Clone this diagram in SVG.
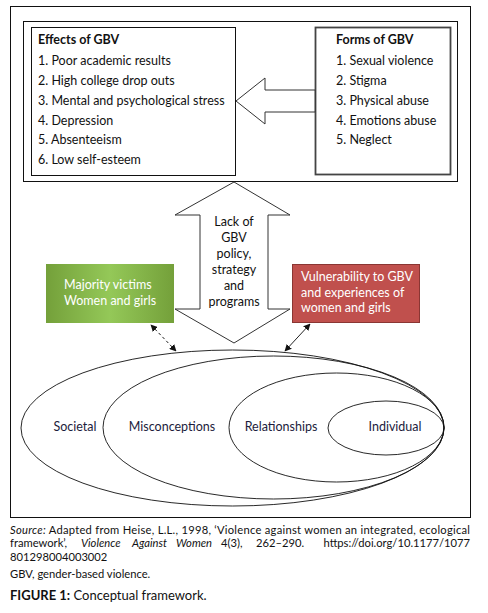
<svg xmlns="http://www.w3.org/2000/svg" width="488" height="613" viewBox="0 0 488 613">
<defs>
<linearGradient id="gg" x1="0" y1="0" x2="1" y2="0">
<stop offset="0" stop-color="#74a03a"/>
<stop offset="0.5" stop-color="#94c858"/>
<stop offset="1" stop-color="#74a03a"/>
</linearGradient>
<marker id="ah" viewBox="0 0 10 10" refX="9" refY="5" markerWidth="7" markerHeight="7" orient="auto-start-reverse" markerUnits="userSpaceOnUse">
<path d="M0,0 L10,5 L0,10 z" fill="#111"/>
</marker>
<style>
.t{font-family:Lato,"Open Sans","Liberation Sans",sans-serif;font-size:12.5px;fill:#111}
.b{font-weight:bold}
.w{fill:#fff}
.c{font-family:Lato,"Open Sans","Liberation Sans",sans-serif;font-size:11.2px;fill:#111}
.i{font-style:italic}
.box{fill:#fff;stroke:#111;stroke-width:1}
.ell{fill:none;stroke:#111;stroke-width:0.9}
.arr{fill:#fff;stroke:#333;stroke-width:1}
.lbl{font-family:Lato,"Open Sans","Liberation Sans",sans-serif;font-size:12.5px;fill:#1c1c3c;text-anchor:middle}
</style>
</defs>
<rect x="10.5" y="6.5" width="460" height="511" fill="#fff" stroke="#111" stroke-width="1"/>
<g id="top-frame"><rect x="23.5" y="21.5" width="434" height="160" class="box"/></g>
<g id="effects">
<rect x="31.5" y="27.5" width="204" height="148" class="box"/>
<text class="t b" x="38" y="44">Effects of GBV</text>
<text class="t" x="38" y="65">1. Poor academic results</text>
<text class="t" x="38" y="85">2. High college drop outs</text>
<text class="t" x="38" y="105">3. Mental and psychological stress</text>
<text class="t" x="38" y="125">4. Depression</text>
<text class="t" x="38" y="144">5. Absenteeism</text>
<text class="t" x="38" y="164">6. Low self-esteem</text>
</g>
<g id="forms">
<rect x="315.5" y="27.5" width="135" height="147" fill="#fff" stroke="#444" stroke-width="1.8"/>
<text class="t b" x="336" y="44">Forms of GBV</text>
<text class="t" x="336" y="65">1. Sexual violence</text>
<text class="t" x="336" y="85">2. Stigma</text>
<text class="t" x="336" y="105">3. Physical abuse</text>
<text class="t" x="336" y="125">4. Emotions abuse</text>
<text class="t" x="336" y="144">5. Neglect</text>
</g>
<g id="connectors">
<polygon class="arr" points="315,90 265,90 265,78 236,101 265,124 265,112 315,112"/>
<path d="M151,325 L176,351" fill="none" stroke="#222" stroke-width="1" stroke-dasharray="3,2.5" marker-start="url(#ah)" marker-end="url(#ah)"/>
<path d="M310,324 L285,351" fill="none" stroke="#222" stroke-width="1" marker-start="url(#ah)" marker-end="url(#ah)"/>
</g>
<g id="policy">
<polygon class="arr" points="234,182 290,215 268,215 268,309 290,309 234,343 175,309 200,309 200,215 175,215"/>
<text class="t" text-anchor="middle" x="234" y="226">Lack of</text>
<text class="t" text-anchor="middle" x="234" y="242">GBV</text>
<text class="t" text-anchor="middle" x="234" y="258">policy,</text>
<text class="t" text-anchor="middle" x="234" y="274">strategy</text>
<text class="t" text-anchor="middle" x="234" y="290">and</text>
<text class="t" text-anchor="middle" x="234" y="306">programs</text>
</g>
<g id="victims">
<rect x="46" y="264" width="128" height="59" fill="url(#gg)"/>
<text class="t w" x="64" y="289">Majority victims</text>
<text class="t w" x="64" y="305">Women and girls</text>
</g>
<g id="vulnerability">
<rect x="292.5" y="264.5" width="127" height="58" fill="#c0504d" stroke="#8a3633" stroke-width="1"/>
<text class="t w" x="301" y="281">Vulnerability to GBV</text>
<text class="t w" x="301" y="297">and experiences of</text>
<text class="t w" x="301" y="312">women and girls</text>
</g>
<g id="societal"><ellipse class="ell" cx="232.5" cy="428" rx="211.5" ry="78"/><text class="lbl" x="75" y="431">Societal</text></g>
<g id="misconceptions"><ellipse class="ell" cx="273.5" cy="427.5" rx="170.5" ry="71.5"/><text class="lbl" x="172" y="431">Misconceptions</text></g>
<g id="relationships"><ellipse class="ell" cx="336.5" cy="427.5" rx="107.5" ry="54.5"/><text class="lbl" x="281" y="431">Relationships</text></g>
<g id="individual"><ellipse class="ell" cx="386" cy="428" rx="58" ry="27"/><text class="lbl" x="395" y="431">Individual</text></g>
<g id="caption">
<text class="c" x="10" y="534" textLength="460" lengthAdjust="spacing"><tspan class="i">Source:</tspan> Adapted from Heise, L.L., 1998, ‘Violence against women an integrated, ecological</text>
<text class="c" y="547"><tspan x="10">framework’,</tspan><tspan x="81" class="i">Violence</tspan><tspan x="132" class="i">Against</tspan><tspan x="176" class="i">Women</tspan><tspan x="221">4(3),</tspan><tspan x="256">262–290.</tspan></text>
<text class="c" x="470" y="547" text-anchor="end">https://doi.org/10.1177/1077</text>
<text class="c" x="10" y="561">801298004003002</text>
<text class="c" x="10" y="578">GBV, gender-based violence.</text>
<text class="c" x="10" y="600" style="font-size:13px"><tspan class="b">FIGURE 1:</tspan> Conceptual framework.</text>
</g>
</svg>
